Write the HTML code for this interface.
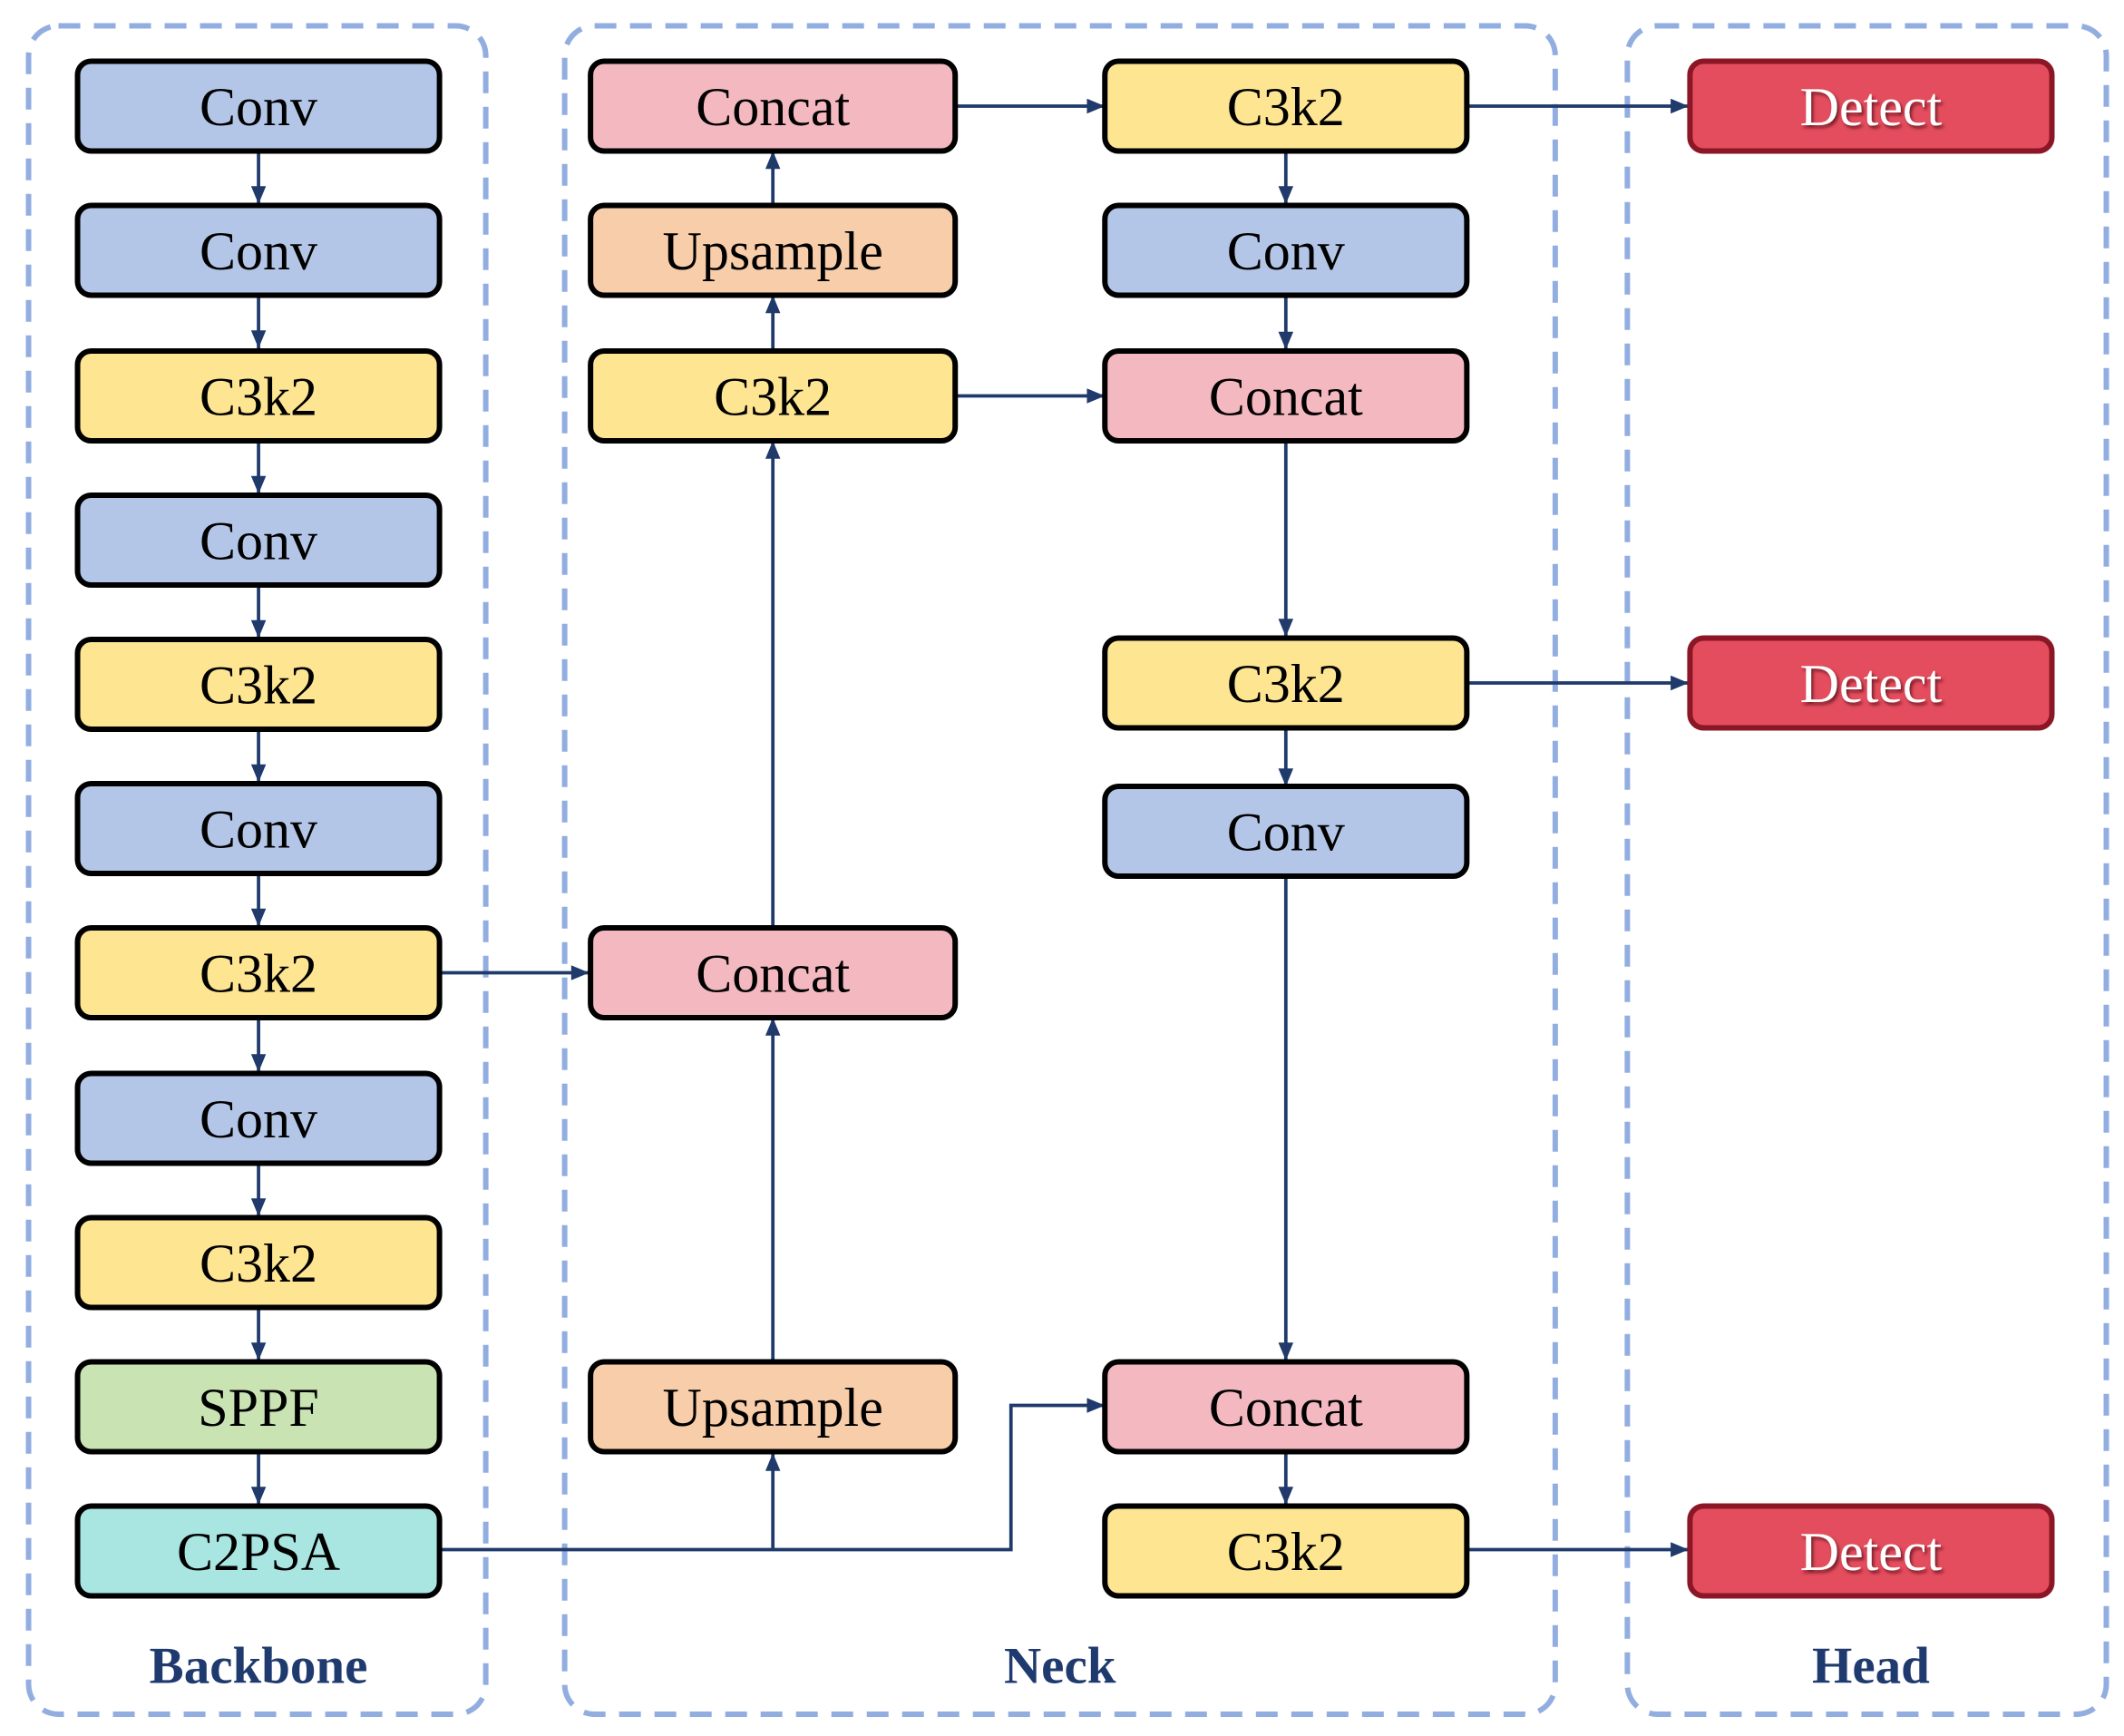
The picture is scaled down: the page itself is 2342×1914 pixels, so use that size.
<!DOCTYPE html>
<html><head><meta charset="utf-8"><style>
html,body{margin:0;padding:0;background:#fff;}
svg{display:block;}
text{font-family:"Liberation Serif",serif;}
</style></head><body>
<svg width="2342" height="1914" viewBox="0 0 1561 1276" preserveAspectRatio="none" xmlns="http://www.w3.org/2000/svg">
<defs>
<marker id="a" viewBox="0 0 10 10" refX="10" refY="5" markerWidth="5" markerHeight="5" orient="auto" markerUnits="userSpaceOnUse"><path d="M0,0 L10,5 L0,10 z" fill="#1f3a6b"/></marker>
<marker id="b" viewBox="0 0 12 10" refX="12" refY="5" markerWidth="14" markerHeight="11" orient="auto" markerUnits="userSpaceOnUse"><path d="M0,0 L12,5 L0,10 z" fill="#1f3a6b"/></marker>
<filter id="sh"><feDropShadow dx="1.5" dy="2" stdDeviation="1" flood-color="#5a0a12" flood-opacity="0.8"/></filter>
</defs>
<g fill="none" stroke="#92aee0" stroke-width="4" stroke-dasharray="16 10">
<rect x="21" y="19" width="336" height="1241" rx="22"/>
<rect x="415" y="19" width="728" height="1241" rx="22"/>
<rect x="1196" y="19" width="352" height="1241" rx="22"/>
</g>
<g stroke="#1f3a6b" stroke-width="2.5" fill="none">
<!-- backbone -->
<line x1="190" y1="111" x2="190" y2="150" marker-end="url(#b)"/>
<line x1="190" y1="217" x2="190" y2="256" marker-end="url(#b)"/>
<line x1="190" y1="324" x2="190" y2="363" marker-end="url(#b)"/>
<line x1="190" y1="430" x2="190" y2="469" marker-end="url(#b)"/>
<line x1="190" y1="536" x2="190" y2="575" marker-end="url(#b)"/>
<line x1="190" y1="642" x2="190" y2="681" marker-end="url(#b)"/>
<line x1="190" y1="748" x2="190" y2="788" marker-end="url(#b)"/>
<line x1="190" y1="855" x2="190" y2="894" marker-end="url(#b)"/>
<line x1="190" y1="961" x2="190" y2="1000" marker-end="url(#b)"/>
<line x1="190" y1="1068" x2="190" y2="1106" marker-end="url(#b)"/>
<line x1="323" y1="715" x2="433" y2="715" marker-end="url(#b)"/>
<!-- C2PSA -->
<polyline points="323,1139 743,1139 743,1033 812,1033" marker-end="url(#b)"/>
<line x1="568" y1="1139" x2="568" y2="1068" marker-end="url(#b)"/>
<!-- neck col1 -->
<line x1="568" y1="1000" x2="568" y2="748" marker-end="url(#b)"/>
<line x1="568" y1="681" x2="568" y2="324" marker-end="url(#b)"/>
<line x1="568" y1="257" x2="568" y2="217" marker-end="url(#b)"/>
<line x1="568" y1="150" x2="568" y2="111" marker-end="url(#b)"/>
<line x1="702" y1="78" x2="812" y2="78" marker-end="url(#b)"/>
<line x1="702" y1="291" x2="812" y2="291" marker-end="url(#b)"/>
<!-- neck col2 -->
<line x1="945" y1="111" x2="945" y2="150" marker-end="url(#b)"/>
<line x1="945" y1="217" x2="945" y2="257" marker-end="url(#b)"/>
<line x1="945" y1="324" x2="945" y2="468" marker-end="url(#b)"/>
<line x1="945" y1="535" x2="945" y2="578" marker-end="url(#b)"/>
<line x1="945" y1="645" x2="945" y2="1000" marker-end="url(#b)"/>
<line x1="945" y1="1067" x2="945" y2="1106" marker-end="url(#b)"/>
<line x1="1078" y1="78" x2="1241" y2="78" marker-end="url(#b)"/>
<line x1="1078" y1="502" x2="1241" y2="502" marker-end="url(#b)"/>
<line x1="1078" y1="1139" x2="1241" y2="1139" marker-end="url(#b)"/>
</g>
<g stroke="#000" stroke-width="4">
<rect x="57" y="45" width="266" height="66" rx="10" fill="#b4c6e7"/>
<rect x="57" y="151" width="266" height="66" rx="10" fill="#b4c6e7"/>
<rect x="57" y="258" width="266" height="66" rx="10" fill="#fde592"/>
<rect x="57" y="364" width="266" height="66" rx="10" fill="#b4c6e7"/>
<rect x="57" y="470" width="266" height="66" rx="10" fill="#fde592"/>
<rect x="57" y="576" width="266" height="66" rx="10" fill="#b4c6e7"/>
<rect x="57" y="682" width="266" height="66" rx="10" fill="#fde592"/>
<rect x="57" y="789" width="266" height="66" rx="10" fill="#b4c6e7"/>
<rect x="57" y="895" width="266" height="66" rx="10" fill="#fde592"/>
<rect x="57" y="1001" width="266" height="66" rx="10" fill="#c9e3b3"/>
<rect x="57" y="1107" width="266" height="66" rx="10" fill="#a9e6e2"/>
<rect x="434" y="45" width="268" height="66" rx="10" fill="#f4b8c0"/>
<rect x="434" y="151" width="268" height="66" rx="10" fill="#f8cdaa"/>
<rect x="434" y="258" width="268" height="66" rx="10" fill="#fde592"/>
<rect x="434" y="682" width="268" height="66" rx="10" fill="#f4b8c0"/>
<rect x="434" y="1001" width="268" height="66" rx="10" fill="#f8cdaa"/>
<rect x="812" y="45" width="266" height="66" rx="10" fill="#fde592"/>
<rect x="812" y="151" width="266" height="66" rx="10" fill="#b4c6e7"/>
<rect x="812" y="258" width="266" height="66" rx="10" fill="#f4b8c0"/>
<rect x="812" y="469" width="266" height="66" rx="10" fill="#fde592"/>
<rect x="812" y="578" width="266" height="66" rx="10" fill="#b4c6e7"/>
<rect x="812" y="1001" width="266" height="66" rx="10" fill="#f4b8c0"/>
<rect x="812" y="1107" width="266" height="66" rx="10" fill="#fde592"/>
</g>
<g stroke="#8b1626" stroke-width="4" fill="#e34d5d">
<rect x="1242" y="45" width="266" height="66" rx="10"/>
<rect x="1242" y="469" width="266" height="66" rx="10"/>
<rect x="1242" y="1107" width="266" height="66" rx="10"/>
</g>
<g font-size="40" text-anchor="middle" fill="#000">
<text x="190" y="92">Conv</text>
<text x="190" y="198">Conv</text>
<text x="190" y="305">C3k2</text>
<text x="190" y="411">Conv</text>
<text x="190" y="517">C3k2</text>
<text x="190" y="623">Conv</text>
<text x="190" y="729">C3k2</text>
<text x="190" y="836">Conv</text>
<text x="190" y="942">C3k2</text>
<text x="190" y="1048">SPPF</text>
<text x="190" y="1154">C2PSA</text>
<text x="568" y="92">Concat</text>
<text x="568" y="198">Upsample</text>
<text x="568" y="305">C3k2</text>
<text x="568" y="729">Concat</text>
<text x="568" y="1048">Upsample</text>
<text x="945" y="92">C3k2</text>
<text x="945" y="198">Conv</text>
<text x="945" y="305">Concat</text>
<text x="945" y="516">C3k2</text>
<text x="945" y="625">Conv</text>
<text x="945" y="1048">Concat</text>
<text x="945" y="1154">C3k2</text>
</g>
<g font-size="40" text-anchor="middle" fill="#fff" filter="url(#sh)">
<text x="1375" y="92">Detect</text>
<text x="1375" y="516">Detect</text>
<text x="1375" y="1154">Detect</text>
</g>
<g font-size="38" font-weight="bold" text-anchor="middle" fill="#1f3a6e">
<text x="190" y="1237">Backbone</text>
<text x="779" y="1237">Neck</text>
<text x="1375" y="1237">Head</text>
</g>
</svg>
</body></html>
